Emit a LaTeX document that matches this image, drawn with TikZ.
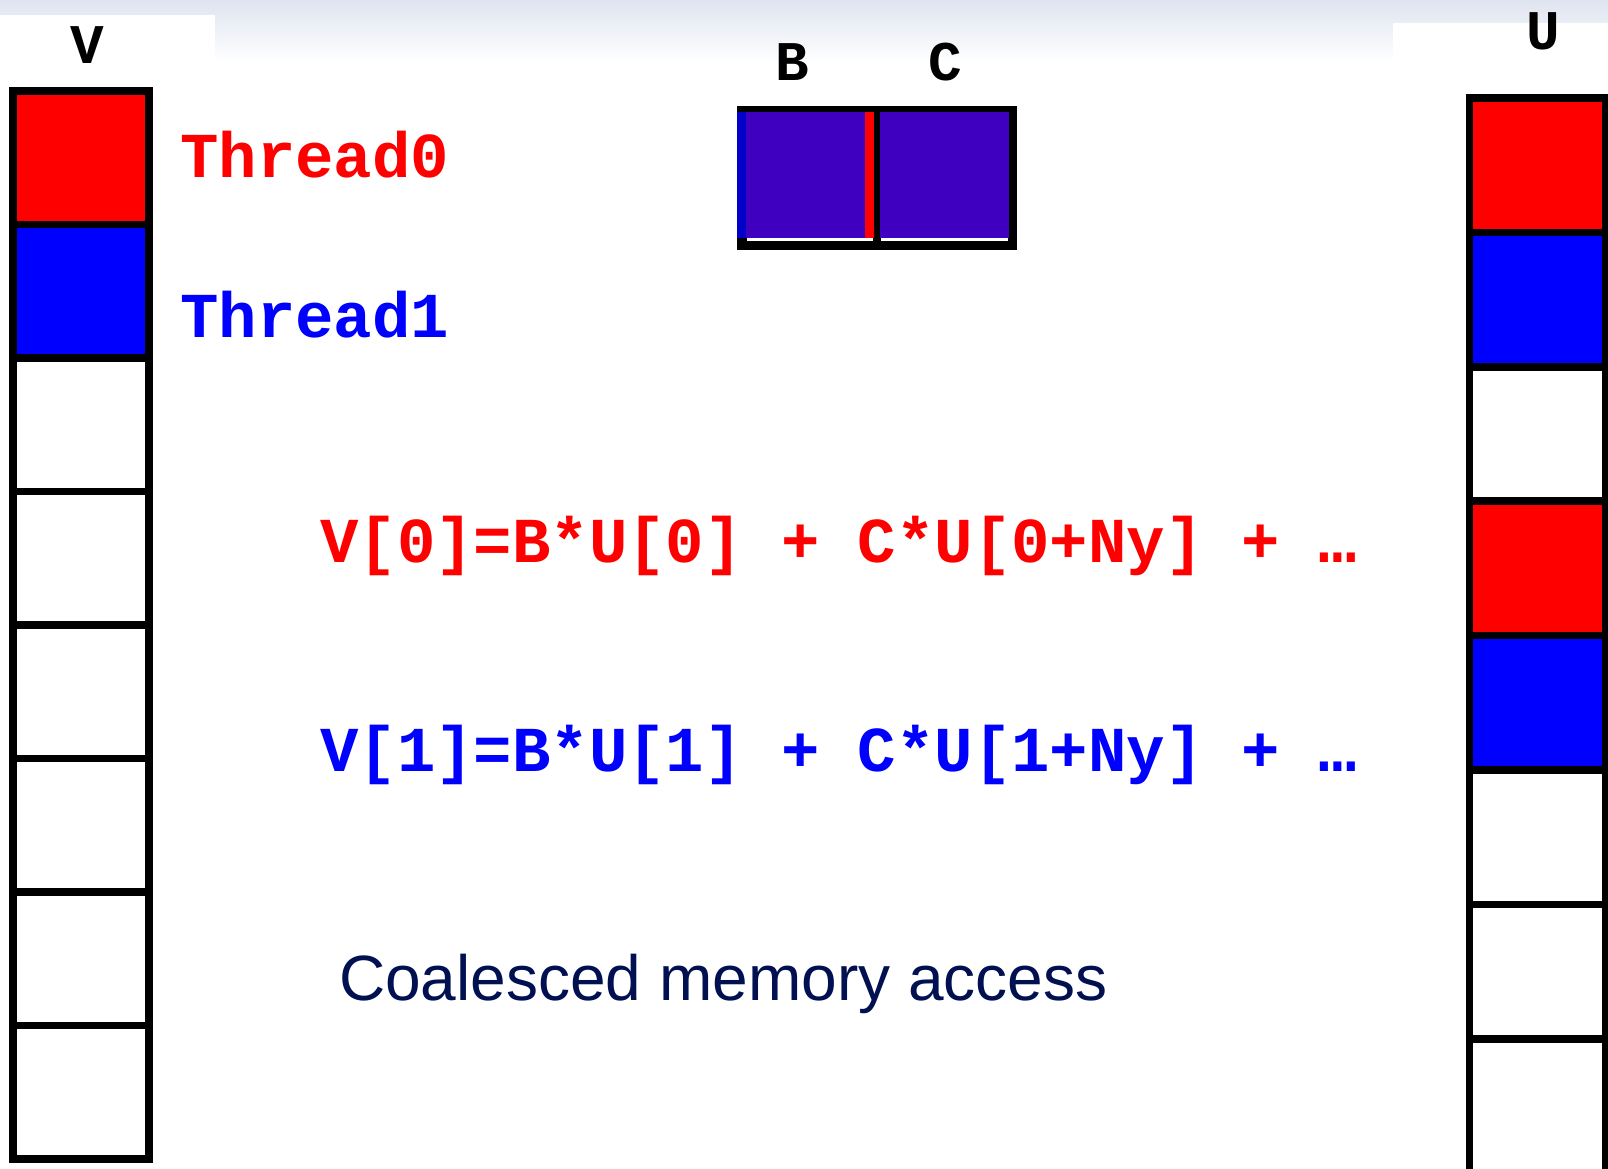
\documentclass[tikz,border=0pt]{standalone}
\usepackage{fontspec}
\newfontfamily\codefont{Liberation Mono}
\newfontfamily\textsansfont{Liberation Sans}
\definecolor{tred}{RGB}{255,0,0}
\definecolor{tblue}{RGB}{0,0,255}
\definecolor{coefpurple}{RGB}{64,0,192}
\definecolor{stripblue}{RGB}{0,0,200}
\definecolor{navy}{RGB}{0,16,80}
\definecolor{haze}{RGB}{222,228,240}
\begin{document}
\begin{tikzpicture}[x=1pt,y=-1pt,
  cell/.style={draw=black,line width=7.5pt,minimum width=136pt,minimum height=133.5pt,inner sep=0pt,outer sep=0pt},
  ucell/.style={cell,minimum height=134.4pt},
  arrlabel/.style={inner sep=0pt,anchor=base,font=\codefont\bfseries\fontsize{56}{56}\selectfont},
  code/.style={inner sep=0pt,anchor=base west,font=\codefont\bfseries\fontsize{64}{64}\selectfont},
  caption/.style={inner sep=0pt,anchor=base west,text=navy,font=\textsansfont\fontsize{64}{64}\selectfont},
  coef/.style={fill=coefpurple,inner sep=0pt,outer sep=0pt,minimum width=119pt,minimum height=126pt}]
\useasboundingbox (0,0) rectangle (1608,1168);
% hazy banner along the top edge
\fill[top color=haze,bottom color=white] (0,0) rectangle (1608,62);
\fill[white] (0,15) rectangle (215,80);
\fill[white] (1393,23) rectangle (1608,90);

% array V
\foreach \i/\c in {1/tred,2/tblue,3/white,4/white,5/white,6/white,7/white,8/white}
  \node[cell,fill=\c] (v\i) at (81,{91+133.5*(\i-0.5)}) {};
\node[arrlabel] (vlab) at (87,63) {V};

% array U
\foreach \i/\c in {1/tred,2/tblue,3/white,4/tred,5/tblue,6/white,7/white,8/white}
  \node[ucell,fill=\c] (u\i) at (1537.5,{98+134.4*(\i-0.5)}) {};
\node[arrlabel] (ulab) at (1543,49) {U};

% coefficients B and C
\node[fill=black,inner sep=0pt,outer sep=0pt,minimum width=280pt,minimum height=144pt] (bcbox) at (877,178) {};
\node[coef] (bcell) at (805.5,175) {};
\node[coef,minimum width=129pt] (ccell) at (944.5,175) {};
\fill[stripblue] (737,112) rectangle (746,238);
\fill[tred] (865,112) rectangle (874,238);
\fill[white] (747,238) rectangle (873,240.5);
\fill[white] (881,238) rectangle (1008,240.5);
\node[arrlabel] (blab) at (792,80) {B};
\node[arrlabel] (clab) at (945,80) {C};

% thread labels
\node[code,text=tred] (th0) at (180,177) {Thread0};
\node[code,text=tblue] (th1) at (180,337) {Thread1};

% stencil expressions
\node[code,text=tred] (eq0) at (320,562) {V[0]=B*U[0] + C*U[0+Ny] + …};
\node[code,text=tblue] (eq1) at (320,771) {V[1]=B*U[1] + C*U[1+Ny] + …};

\node[caption] (cap) at (339,1000) {Coalesced memory access};
\end{tikzpicture}
\end{document}
